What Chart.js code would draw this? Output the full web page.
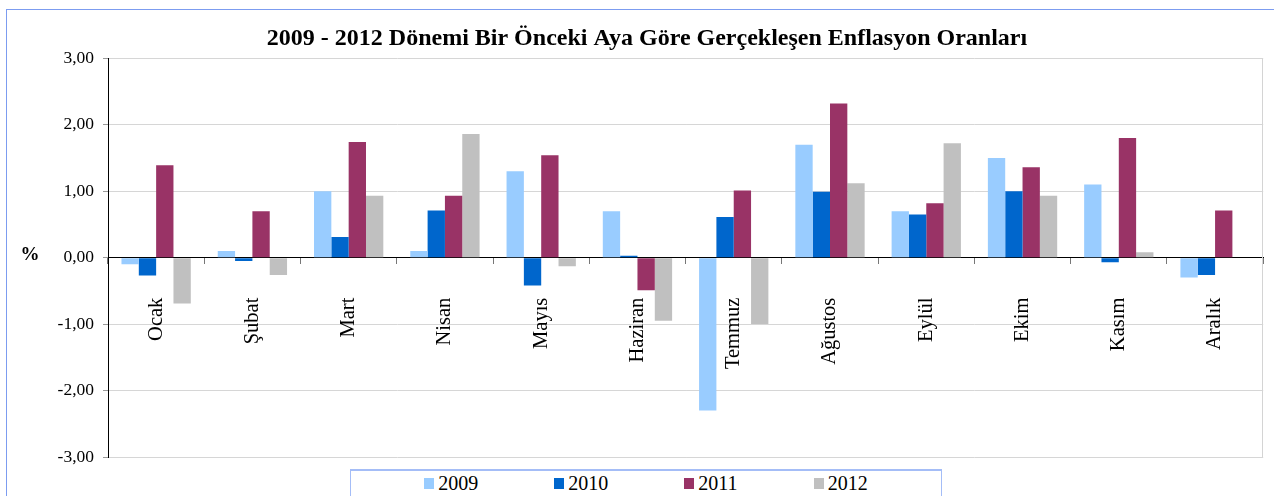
<!DOCTYPE html>
<html lang="tr">
<head>
  <meta charset="UTF-8">
  <title>2009 - 2012 Dönemi Enflasyon Oranları</title>
  <style>
    body {
      margin: 0;
      background: #fff;
      overflow: hidden;
      font-family: "Liberation Serif", "Times New Roman", serif;
    }
    #frame {
      position: absolute;
      left: 6px;
      top: 9px;
      width: 1320px;
      height: 540px;
      border: 1px solid #7c9cf0;
      box-sizing: border-box;
    }
    #wrap {
      position: absolute;
      left: 0;
      top: 0;
      width: 1274px;
      height: 496px;
    }
    #legend {
      position: absolute;
      left: 350px;
      top: 469px;
      width: 592px;
      height: 40px;
      border: 1px solid #a4bdf7;
      border-top-width: 2px;
      box-sizing: border-box;
      background: #fff;
      display: flex;
      justify-content: center;
      align-items: flex-start;
      gap: 76px;
      font-size: 20px;
      line-height: 24px;
      color: #000;
    }
    #legend .item {
      display: flex;
      align-items: center;
      height: 24px;
    }
    #legend .item i {
      display: inline-block;
      width: 10px;
      height: 11px;
      margin-right: 4px;
    }
  </style>
</head>
<body>
  <div id="frame"></div>
  <div id="wrap">
    <canvas id="chart" width="1274" height="496"></canvas>
  </div>
  <div id="legend"></div>

  <script src="https://cdn.jsdelivr.net/npm/chart.js"></script>
  <script>
    const months = ['Ocak', 'Şubat', 'Mart', 'Nisan', 'Mayıs', 'Haziran', 'Temmuz', 'Ağustos', 'Eylül', 'Ekim', 'Kasım', 'Aralık'];
    const years = ['2009', '2010', '2011', '2012'];
    const v2009 = [-0.10, 0.10, 1.00, 0.10, 1.30, 0.70, -2.30, 1.70, 0.70, 1.50, 1.10, -0.30];
    const v2010 = [-0.27, -0.05, 0.31, 0.71, -0.42, 0.03, 0.61, 0.99, 0.65, 1.00, -0.07, -0.26];
    const v2011 = [1.39, 0.70, 1.74, 0.93, 1.54, -0.49, 1.01, 2.32, 0.82, 1.36, 1.80, 0.71];
    const v2012 = [-0.69, -0.26, 0.93, 1.86, -0.13, -0.95, -1.00, 1.12, 1.72, 0.93, 0.08, null];
    const colors = ['#99ccff', '#0066cc', '#993366', '#c0c0c0'];
    const yMin = -3, yMax = 3, yStep = 1;

    const serif = '"Liberation Serif", "Times New Roman", serif';

    // "%" etiketi ve sağ çerçeve çizgisi
    const extras = {
      id: 'extras',
      beforeDatasetsDraw(chart) {
        const { ctx, chartArea: a } = chart;
        ctx.save();
        ctx.strokeStyle = '#d4d4d4';
        ctx.lineWidth = 1;
        ctx.beginPath();
        ctx.moveTo(Math.round(a.right) - 0.5, a.top);
        ctx.lineTo(Math.round(a.right) - 0.5, a.bottom);
        ctx.stroke();
        ctx.restore();
      },
      afterDraw(chart) {
        const { ctx, scales: { y } } = chart;
        ctx.save();
        ctx.fillStyle = '#000';
        ctx.font = 'bold 19px ' + serif;
        ctx.textAlign = 'center';
        ctx.textBaseline = 'middle';
        ctx.fillText('%', y.left + 2, y.getPixelForValue(0) - 3);
        ctx.restore();
      }
    };

    const series = [v2009, v2010, v2011, v2012];
    const chart = new Chart(document.getElementById('chart'), {
      type: 'bar',
      data: {
        labels: months,
        datasets: series.map((vals, i) => ({
          label: years[i],
          data: vals,
          backgroundColor: colors[i],
          borderWidth: 0,
          categoryPercentage: 0.72,
          barPercentage: 1.0
        }))
      },
      options: {
        responsive: false,
        animation: false,
        layout: { padding: { left: 28, right: 8, top: 0, bottom: 39 } },
        plugins: {
          legend: { display: false },
          tooltip: { enabled: false },
          title: {
            display: true,
            text: '2009 - 2012 Dönemi Bir Önceki Aya Göre Gerçekleşen Enflasyon Oranları',
            color: '#000',
            font: { family: serif, size: 24, weight: 'bold' },
            padding: { top: 24.5, bottom: 5 }
          }
        },
        scales: {
          x: {
            position: { y: 0 },
            z: 1,
            grid: { drawOnChartArea: false, tickLength: 6, color: '#777', offset: true },
            border: { color: '#000', width: 1 },
            ticks: {
              minRotation: 90,
              maxRotation: 90,
              autoSkip: false,
              padding: 34,
              color: '#000',
              font: { family: serif, size: 20.5 }
            }
          },
          y: {
            min: yMin,
            max: yMax,
            afterFit(scale) { scale.width = 80; },
            grid: { color: '#d6d6d6', tickColor: '#999', tickLength: 5 },
            border: { color: '#000', width: 1 },
            ticks: {
              stepSize: yStep,
              padding: 9,
              color: '#000',
              font: { family: serif, size: 17.5 },
              callback: v => v.toFixed(2).replace('.', ',')
            }
          }
        }
      },
      plugins: [extras]
    });

    // HTML lejant
    const legend = document.getElementById('legend');
    legend.innerHTML = chart.data.datasets
      .map(ds => `<span class="item"><i style="background:${ds.backgroundColor}"></i>${ds.label}</span>`)
      .join('');
  </script>
</body>
</html>
